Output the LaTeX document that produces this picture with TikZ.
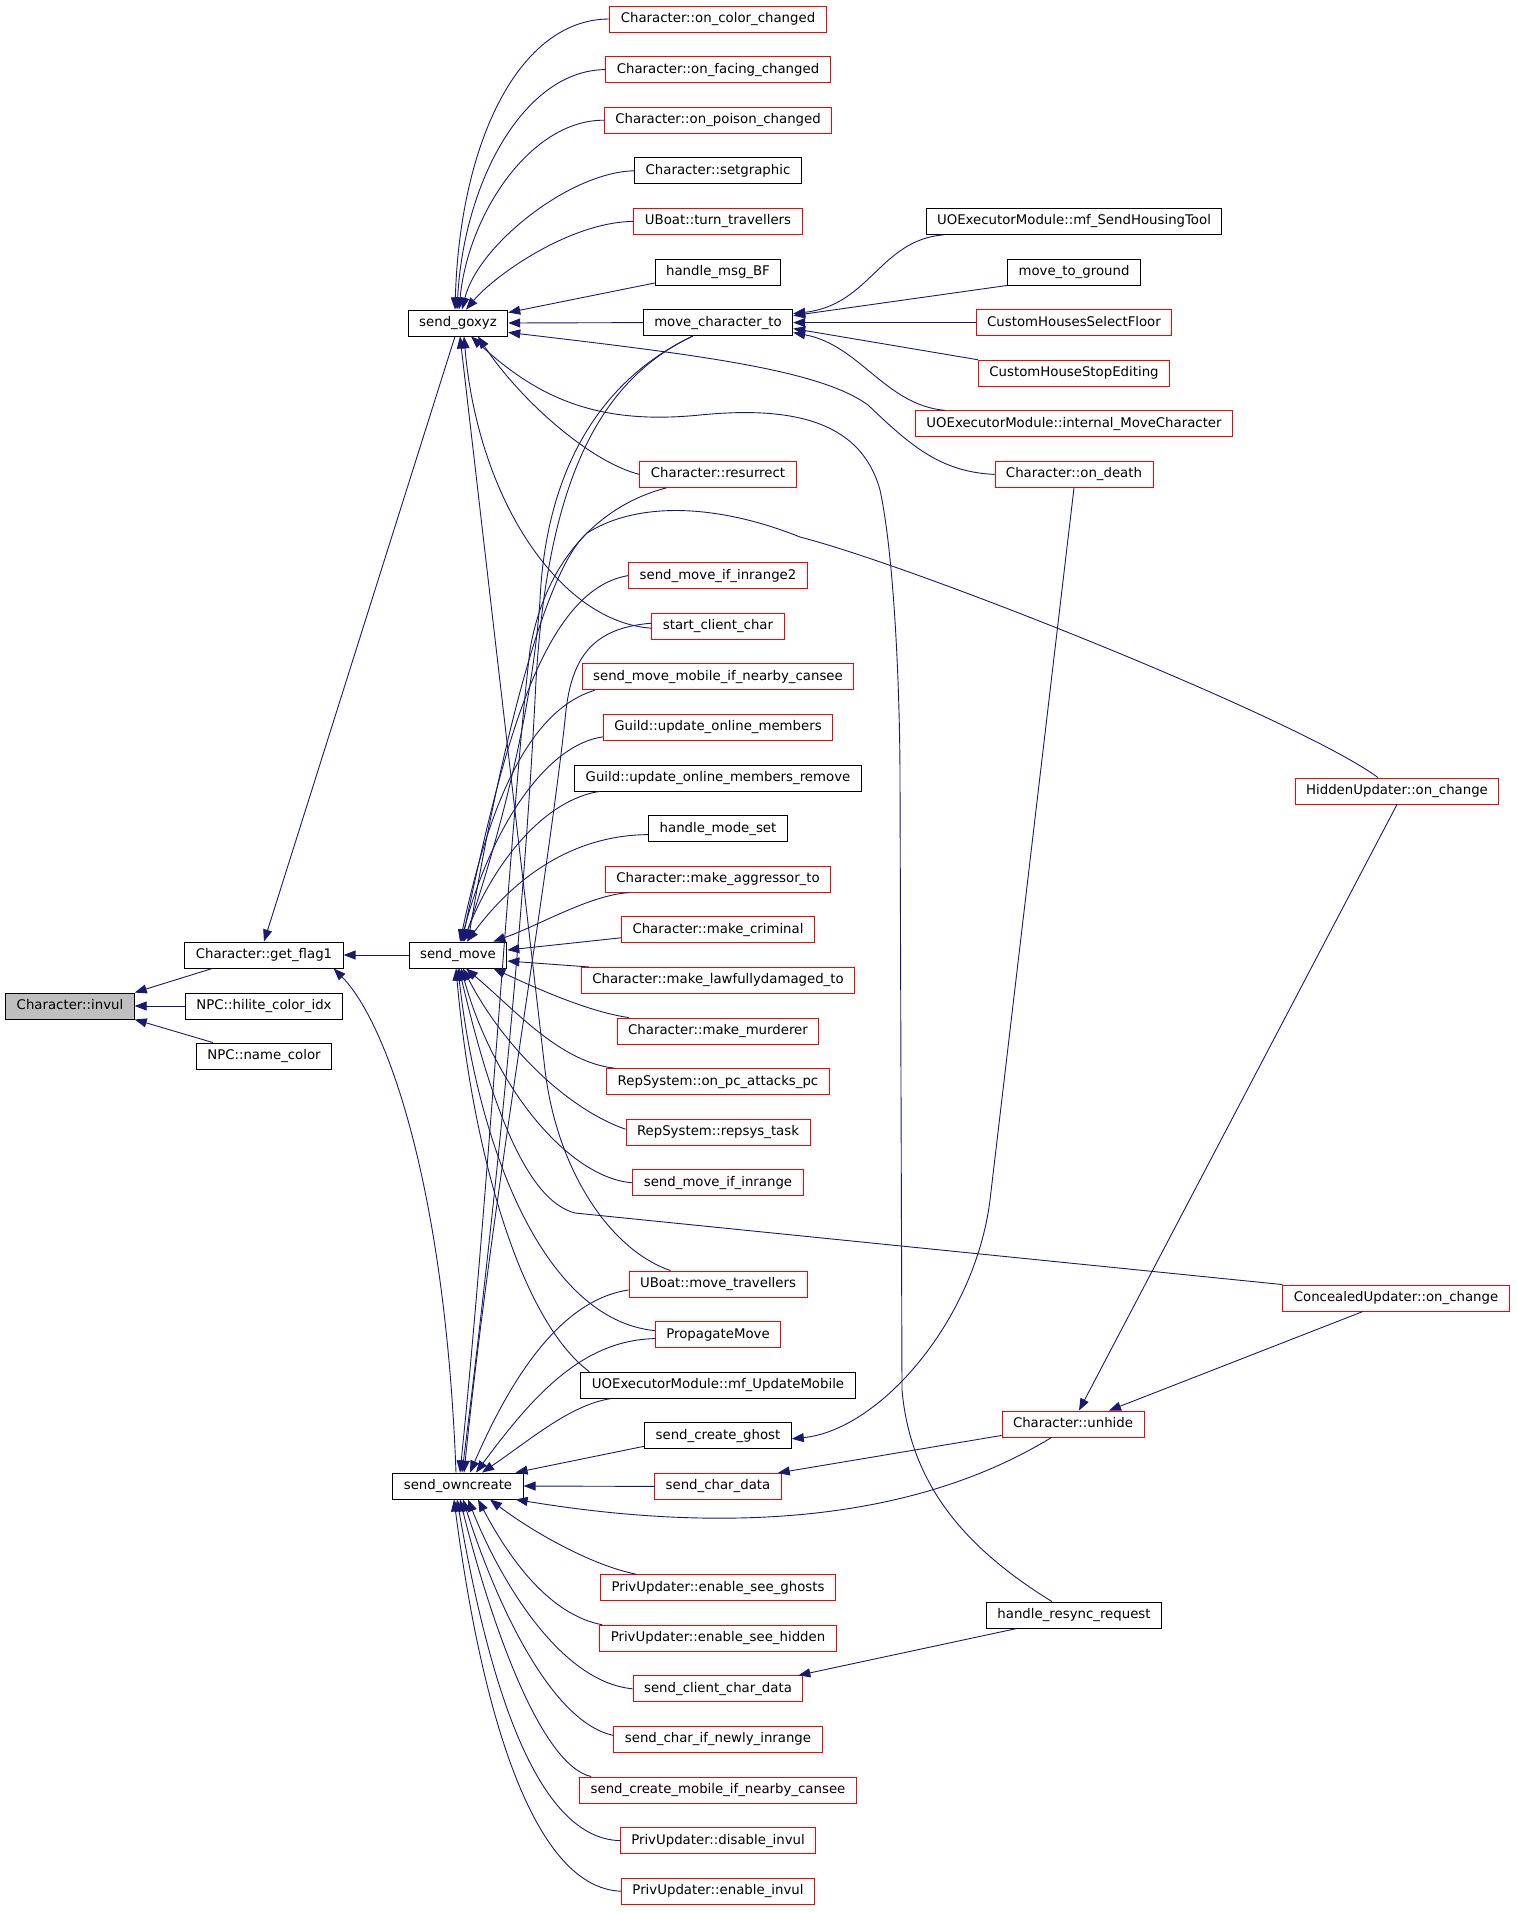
\documentclass[tikz,border=0pt]{standalone}
\usepackage{fontspec}
\setmainfont{DejaVu Sans}
\usetikzlibrary{arrows.meta}
\definecolor{edgeblue}{HTML}{191970}
\definecolor{linkred}{HTML}{FF0000}
\definecolor{curgray}{HTML}{BFBFBF}
\tikzset{
  fn/.style={draw=black, fill=white, line width=0.9pt, minimum height=26pt, inner xsep=11pt, inner ysep=0pt,
    text height=9.8pt, text depth=2.8pt, font=\fontsize{13.3}{16}\selectfont},
  fnlink/.style={fn, draw=linkred},
  fncur/.style={fn, fill=curgray},
  call/.style={draw=edgeblue, line width=0.9pt, {Triangle[length=12pt,width=9pt]}-},
}
\begin{document}
\begin{tikzpicture}[x=1pt, y=-1pt]
\useasboundingbox (0,0) rectangle (1517,1912);
% Left columns
\node [fncur] (invul) at (70,1006) {Character::invul};
\node [fn] (getflag) at (264,955) {Character::get\_flag1};
\node [fn] (hilite) at (264,1006) {NPC::hilite\_color\_idx};
\node [fn] (namecolor) at (264,1056) {NPC::name\_color};
\node [fn] (goxyz) at (458,323) {send\_goxyz};
\node [fn] (sendmove) at (458,955) {send\_move};
\node [fn] (owncreate) at (458,1486) {send\_owncreate};
% Middle column
\node [fnlink] (oncolor) at (718,19) {Character::on\_color\_changed};
\node [fnlink] (onfacing) at (718,69.6) {Character::on\_facing\_changed};
\node [fnlink] (onpoison) at (718,120.2) {Character::on\_poison\_changed};
\node [fn] (setgraphic) at (718,170.8) {Character::setgraphic};
\node [fnlink] (turntrav) at (718,221.4) {UBoat::turn\_travellers};
\node [fn] (msgbf) at (718,272) {handle\_msg\_BF};
\node [fn] (movechar) at (718,322.6) {move\_character\_to};
\node [fnlink] (resurrect) at (718,474.4) {Character::resurrect};
\node [fnlink] (inrangetwo) at (718,575.6) {send\_move\_if\_inrange2};
\node [fnlink] (startclient) at (718,626.2) {start\_client\_char};
\node [fnlink] (mobilecansee) at (718,676.8) {send\_move\_mobile\_if\_nearby\_cansee};
\node [fnlink] (guildupd) at (718,727.4) {Guild::update\_online\_members};
\node [fn] (guildrem) at (718,778) {Guild::update\_online\_members\_remove};
\node [fn] (modeset) at (718,828.6) {handle\_mode\_set};
\node [fnlink] (aggressor) at (718,879.2) {Character::make\_aggressor\_to};
\node [fnlink] (criminal) at (718,929.8) {Character::make\_criminal};
\node [fnlink] (lawful) at (718,980.4) {Character::make\_lawfullydamaged\_to};
\node [fnlink] (murderer) at (718,1031) {Character::make\_murderer};
\node [fnlink] (pcattacks) at (718,1081.6) {RepSystem::on\_pc\_attacks\_pc};
\node [fnlink] (repsys) at (718,1132.2) {RepSystem::repsys\_task};
\node [fnlink] (inrange) at (718,1182.8) {send\_move\_if\_inrange};
\node [fnlink] (movetrav) at (718,1284) {UBoat::move\_travellers};
\node [fnlink] (propagate) at (718,1334.6) {PropagateMove};
\node [fn] (updmobile) at (718,1385.2) {UOExecutorModule::mf\_UpdateMobile};
\node [fn] (createghost) at (718,1435.8) {send\_create\_ghost};
\node [fnlink] (chardata) at (718,1486.4) {send\_char\_data};
\node [fnlink] (seeghosts) at (718,1587.6) {PrivUpdater::enable\_see\_ghosts};
\node [fnlink] (seehidden) at (718,1638.2) {PrivUpdater::enable\_see\_hidden};
\node [fnlink] (clientdata) at (718,1688.8) {send\_client\_char\_data};
\node [fnlink] (newlyinrange) at (718,1739.4) {send\_char\_if\_newly\_inrange};
\node [fnlink] (mobilecreate) at (718,1790) {send\_create\_mobile\_if\_nearby\_cansee};
\node [fnlink] (disableinvul) at (718,1840.6) {PrivUpdater::disable\_invul};
\node [fnlink] (enableinvul) at (718,1891.2) {PrivUpdater::enable\_invul};
% Right columns
\node [fn] (housingtool) at (1074,221.4) {UOExecutorModule::mf\_SendHousingTool};
\node [fn] (toground) at (1074,272) {move\_to\_ground};
\node [fnlink] (selectfloor) at (1074,322.6) {CustomHousesSelectFloor};
\node [fnlink] (stopediting) at (1074,373.2) {CustomHouseStopEditing};
\node [fnlink] (internalmove) at (1074,423.8) {UOExecutorModule::internal\_MoveCharacter};
\node [fnlink] (ondeath) at (1074,474.4) {Character::on\_death};
\node [fnlink] (unhide) at (1073,1424) {Character::unhide};
\node [fn] (resync) at (1074,1615) {handle\_resync\_request};
\node [fnlink] (hidden) at (1397,791) {HiddenUpdater::on\_change};
\node [fnlink] (concealed) at (1396,1298) {ConcealedUpdater::on\_change};
% Callers of Character::invul
\draw [call] (invul.north east) -- ([xshift=28pt]getflag.south west);
\draw [call] (invul.east) -- (hilite.west);
\draw [call] (invul.south east) -- ([xshift=17pt]namecolor.north west);
% Callers of get_flag1
\draw [call] (getflag.north) -- ([xshift=-3pt]goxyz.south);
\draw [call] (getflag.east) -- (sendmove.west);
\draw [call] ([xshift=-10pt]getflag.south east) .. controls (385,1020) and (445,1180) .. ([xshift=-2pt]owncreate.north);
% Callers of send_goxyz
\draw [call] ([xshift=-3pt]goxyz.north) .. controls (460,140) and (520,19) .. (oncolor.west);
\draw [call] ([xshift=-1pt]goxyz.north) .. controls (464,180) and (525,70) .. (onfacing.west);
\draw [call] ([xshift=1pt]goxyz.north) .. controls (468,215) and (530,120) .. (onpoison.west);
\draw [call] ([xshift=4pt]goxyz.north) .. controls (478,245) and (570,172) .. (setgraphic.west);
\draw [call] ([xshift=8pt]goxyz.north) .. controls (495,275) and (570,222) .. (turntrav.west);
\draw [call] ([yshift=-3pt]goxyz.north east) -- ([yshift=-11pt]msgbf.west);
\draw [call] (goxyz.east) -- (movechar.west);
\draw [call] ([yshift=4pt]goxyz.south east) .. controls (700,355) and (820,370) .. (868,405) .. controls (910,445) and (940,472) .. (ondeath.west);
\draw [call] ([xshift=20pt]goxyz.south) .. controls (520,400) and (590,462) .. (resurrect.west);
\draw [call] ([xshift=6pt]goxyz.south) .. controls (478,500) and (560,622) .. ([yshift=-2pt]startclient.west);
\draw [call] ([xshift=2pt]goxyz.south) -- (545,1070) .. controls (557,1170) and (610,1250) .. ([xshift=42pt]movetrav.north west);
\draw [call] ([xshift=13pt]goxyz.south) .. controls (540,400) and (600,425) .. (700,415) .. controls (800,405) and (862,425) .. (880,490)
  .. controls (895,560) and (900,700) .. (900,780) -- (902,1390) .. controls (910,1480) and (960,1545) .. ([xshift=-22pt]resync.north);
% Callers of move_character_to
\draw [call] ([yshift=9pt]movechar.east) .. controls (870,305) and (880,240) .. ([xshift=18pt]housingtool.south west);
\draw [call] ([yshift=7pt]movechar.east) -- (toground.south west);
\draw [call] (movechar.east) -- (selectfloor.west);
\draw [call] ([yshift=-6pt]movechar.east) -- (stopediting.north west);
\draw [call] ([yshift=-10pt]movechar.east) .. controls (860,345) and (885,405) .. ([xshift=30pt]internalmove.north west);
% Callers of send_move
\draw [call] ([xshift=6pt]sendmove.north) .. controls (505,820) and (533,700) .. (540,600) .. controls (546,470) and (600,380) .. ([xshift=50pt]movechar.south west);
\draw [call] ([xshift=10pt]sendmove.north) .. controls (495,780) and (540,575) .. (587,533) .. controls (640,500) and (720,505) .. (800,537)
  .. controls (920,568) and (1300,720) .. ([xshift=-19pt]hidden.north);
\draw [call] ([xshift=4pt]sendmove.north) .. controls (500,760) and (540,590) .. (inrangetwo.west);
\draw [call] ([xshift=2pt]sendmove.north) .. controls (490,800) and (530,710) .. ([xshift=13pt]mobilecansee.south west);
\draw [call] ([xshift=3pt]sendmove.north) .. controls (490,830) and (545,745) .. ([yshift=4pt]guildupd.south west);
\draw [call] ([xshift=5pt]sendmove.north) .. controls (495,860) and (545,800) .. ([xshift=25pt]guildrem.south west);
\draw [call] ([xshift=9pt]sendmove.north) .. controls (520,870) and (580,835) .. ([yshift=-6pt]modeset.west);
\draw [call] ([xshift=-14pt]sendmove.north east) .. controls (540,925) and (590,895) .. ([xshift=24pt]aggressor.south west);
\draw [call] ([yshift=5pt]sendmove.east) -- ([yshift=-8pt]criminal.west);
\draw [call] ([yshift=-6pt]sendmove.east) -- ([xshift=8pt]lawful.north west);
\draw [call] ([xshift=-14pt]sendmove.south east) .. controls (540,990) and (590,1012) .. ([xshift=12pt]murderer.north west);
\draw [call] ([xshift=8pt]sendmove.south) .. controls (515,1010) and (560,1062) .. ([xshift=8pt]pcattacks.north west);
\draw [call] ([xshift=5pt]sendmove.south) .. controls (505,1050) and (570,1110) .. ([yshift=3pt]repsys.west);
\draw [call] ([xshift=3pt]sendmove.south) .. controls (495,1090) and (570,1178) .. (inrange.west);
\draw [call] ([xshift=1pt]sendmove.south) .. controls (490,1100) and (525,1200) .. (575,1213) -- (concealed.north west);
\draw [call] (sendmove.south) .. controls (478,1150) and (545,1320) .. ([yshift=4pt]propagate.west);
\draw [call] ([xshift=-2pt]sendmove.south) .. controls (472,1150) and (520,1320) .. ([xshift=9pt]updmobile.north west);
% Callers of send_owncreate
\draw [call] ([xshift=4pt]owncreate.north) .. controls (490,1250) and (522,950) .. (535,700) .. controls (545,480) and (600,380) .. ([xshift=50pt]movechar.south west);
\draw [call] ([xshift=2pt]owncreate.north) .. controls (488,1200) and (512,800) .. (530,650) .. controls (545,560) and (600,505) .. ([xshift=27pt]resurrect.south west);
\draw [call] ([xshift=6pt]owncreate.north) .. controls (492,1200) and (545,900) .. (565,720) .. controls (570,660) and (590,628) .. ([yshift=3pt]startclient.west);
\draw [call] ([xshift=12pt]owncreate.north) .. controls (510,1380) and (560,1300) .. ([yshift=-6pt]movetrav.west);
\draw [call] ([xshift=18pt]owncreate.north) .. controls (530,1400) and (580,1340) .. ([yshift=-4pt]propagate.west);
\draw [call] ([xshift=24pt]owncreate.north) .. controls (530,1440) and (570,1405) .. ([xshift=30pt]updmobile.south west);
\draw [call] ([xshift=-8pt]owncreate.north east) -- ([yshift=3pt]createghost.south west);
\draw [call] (owncreate.east) -- (chardata.west);
\draw [call] ([xshift=-8pt]owncreate.south east) .. controls (700,1530) and (900,1530) .. ([xshift=50pt]unhide.south west);
\draw [call] ([xshift=32pt]owncreate.south) .. controls (530,1530) and (590,1565) .. ([xshift=36pt]seeghosts.north west);
\draw [call] ([xshift=20pt]owncreate.south) .. controls (510,1560) and (550,1615) .. ([xshift=3pt]seehidden.north west);
\draw [call] ([xshift=10pt]owncreate.south) .. controls (500,1580) and (560,1682) .. (clientdata.west);
\draw [call] ([xshift=5pt]owncreate.south) .. controls (495,1600) and (550,1722) .. ([yshift=4pt]newlyinrange.west);
\draw [call] ([xshift=2pt]owncreate.south) .. controls (490,1620) and (540,1765) .. ([xshift=12pt]mobilecreate.north west);
\draw [call] ([xshift=-1pt]owncreate.south) .. controls (485,1660) and (530,1838) .. (disableinvul.west);
\draw [call] ([xshift=-4pt]owncreate.south) .. controls (480,1700) and (530,1888) .. (enableinvul.west);
% Remaining callers
\draw [call] ([yshift=-3pt]createghost.east) .. controls (880,1430) and (975,1320) .. (990,1200) -- (ondeath.south);
\draw [call] ([xshift=-4pt]chardata.north east) -- ([yshift=2pt]unhide.south west);
\draw [call] ([xshift=-5pt]clientdata.north east) -- ([xshift=-57pt]resync.south);
\draw [call] ([xshift=6pt]unhide.north) -- (hidden.south);
\draw [call] ([xshift=36pt]unhide.north) -- ([xshift=-33pt]concealed.south);
\end{tikzpicture}
\end{document}
